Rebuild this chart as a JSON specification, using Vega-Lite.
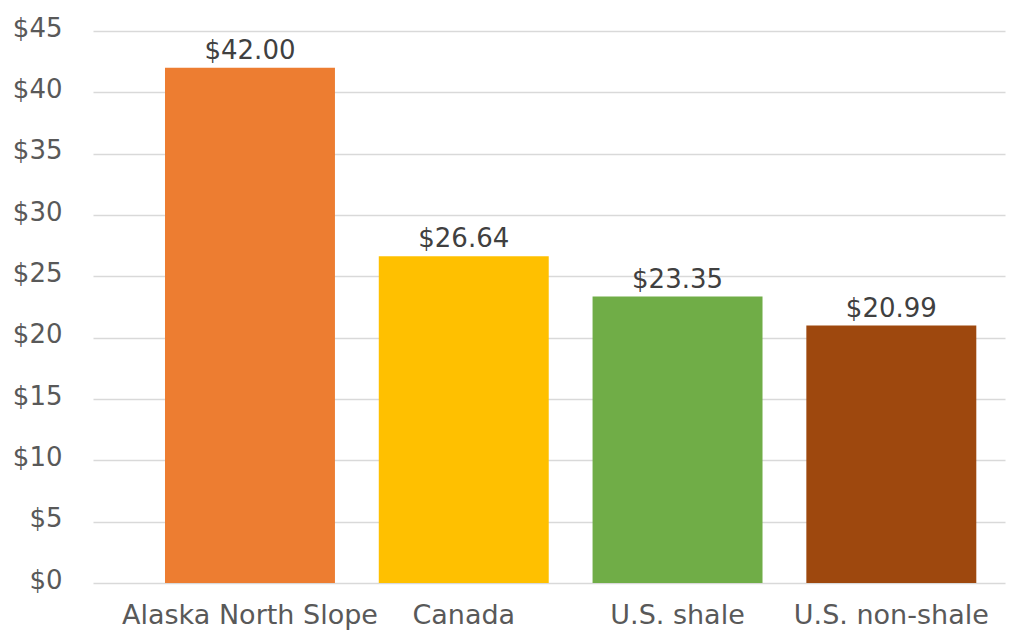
{
  "$schema": "https://vega.github.io/schema/vega-lite/v6.json",
  "autosize": {"type": "none"},
  "padding": {"left": 93, "top": 31, "right": 8, "bottom": 56},
  "width": 912,
  "height": 552,
  "background": "white",
  "config": {
    "view": {"stroke": null},
    "font": "DejaVu Sans"
  },
  "data": {
    "values": [
      {"region": "Alaska North Slope", "cost": 42.00, "label": "$42.00"},
      {"region": "Canada", "cost": 26.64, "label": "$26.64"},
      {"region": "U.S. shale", "cost": 23.35, "label": "$23.35"},
      {"region": "U.S. non-shale", "cost": 20.99, "label": "$20.99"}
    ]
  },
  "encoding": {
    "x": {
      "field": "region",
      "type": "nominal",
      "sort": null,
      "scale": {"paddingInner": 0.205, "paddingOuter": 0.2355, "align": 0.715},
      "axis": {
        "title": null,
        "labelAngle": 0,
        "domain": false,
        "ticks": false,
        "labelFontSize": 27,
        "labelColor": "#595959",
        "labelPadding": 19,
        "labelLimit": 0,
        "labelOverlap": false,
        "labelFont": "DejaVu Sans"
      }
    },
    "y": {
      "field": "cost",
      "type": "quantitative",
      "scale": {"domain": [0, 45], "nice": false},
      "axis": {
        "title": null,
        "values": [0, 5, 10, 15, 20, 25, 30, 35, 40, 45],
        "format": "$,.0f",
        "domain": false,
        "ticks": false,
        "labelFontSize": 26,
        "labelColor": "#595959",
        "labelPadding": 31,
        "labelBaseline": "middle",
        "labelOffset": -3,
        "gridColor": "#D9D9D9",
        "gridWidth": 1.5,
        "labelFont": "DejaVu Sans"
      }
    }
  },
  "layer": [
    {
      "mark": {"type": "bar"},
      "encoding": {
        "color": {
          "field": "region",
          "type": "nominal",
          "sort": null,
          "scale": {
            "domain": ["Alaska North Slope", "Canada", "U.S. shale", "U.S. non-shale"],
            "range": ["#ED7D31", "#FFC000", "#70AD47", "#9E480E"]
          },
          "legend": null
        }
      }
    },
    {
      "mark": {"type": "text", "baseline": "bottom", "dy": -4, "fontSize": 26, "color": "#404040", "font": "DejaVu Sans"},
      "encoding": {
        "text": {"field": "label"}
      }
    }
  ]
}
